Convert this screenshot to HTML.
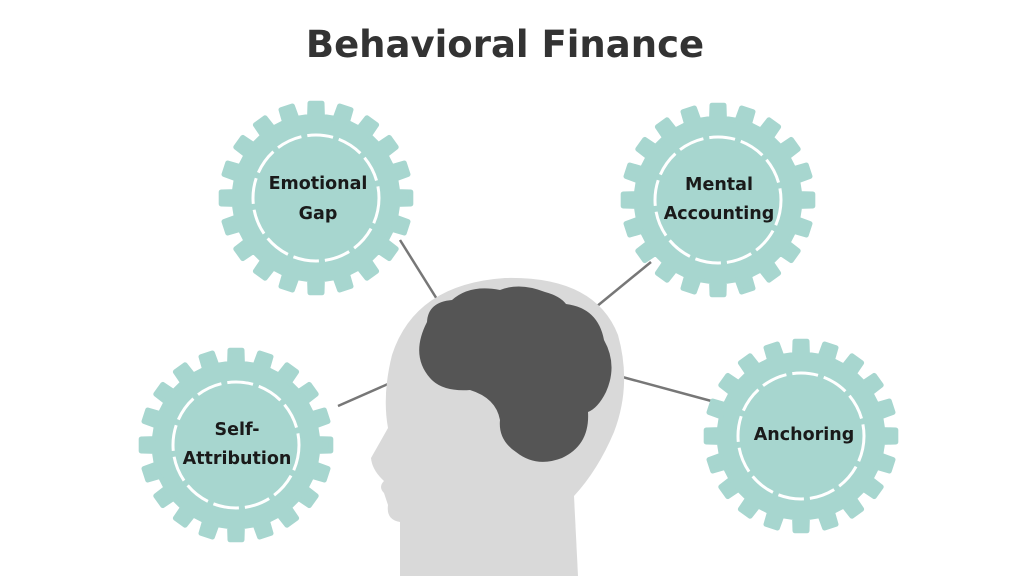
<!DOCTYPE html>
<html><head><meta charset="utf-8"><style>
html,body{margin:0;padding:0;background:#fff;width:1024px;height:576px;overflow:hidden}
svg{display:block}
text{font-family:"DejaVu Sans","Liberation Sans",sans-serif;font-weight:bold}
</style></head><body>
<svg id="s" width="1024" height="576" viewBox="0 0 1024 576" xmlns="http://www.w3.org/2000/svg">
<text x="505" y="57" text-anchor="middle" font-size="37" fill="#333">Behavioral Finance</text>
<g stroke="#777" stroke-width="2.5">
<line x1="400" y1="240" x2="445" y2="312"/>
<line x1="651" y1="262" x2="585" y2="316"/>
<line x1="338" y1="406" x2="422" y2="369"/>
<line x1="604" y1="372" x2="715" y2="402"/>
</g>
<path fill="#d9d9d9" d="M400 576 L400 522 Q386 520 388 505 L384 493 Q378 487 384 481 Q372 470 371 458 L388 428 Q382 395 392 355 Q415 284 505 278 Q595 276 618 335 Q632 385 614 432 Q598 470 574 496 L578 576 Z"/>
<path fill="#555" d="M427 322 Q428 302 452 300 Q470 284 500 290 Q520 282 545 292 Q560 296 566 304 Q598 308 604 340 Q618 365 606 392 Q598 408 588 412 Q590 445 562 458 Q536 468 516 452 Q498 440 500 420 Q496 398 470 390 Q442 392 430 378 Q410 355 427 322 Z"/>
<g id="gears"></g>
<g font-size="17.5" fill="#1a1a1a" text-anchor="middle">
<text x="318" y="189">Emotional</text><text x="318" y="219">Gap</text>
<text x="719" y="190">Mental</text><text x="719" y="219">Accounting</text>
<text x="237" y="435">Self-</text><text x="237" y="464">Attribution</text>
<text x="804" y="440">Anchoring</text>
</g>
</svg>
<script>
var g=document.getElementById('gears');
function gear(cx,cy){
 var n=20,R=95,r=82,d='';
 for(var i=0;i<n;i++){
  var a0=i*2*Math.PI/n, w=Math.PI/n;
  var pts=[[a0-w*0.5,r],[a0-w*0.4,R],[a0+w*0.4,R],[a0+w*0.5,r],[a0+w*1.5,r]];
  pts.forEach(function(p,j){d+=(i==0&&j==0?'M':'L')+(cx+p[1]*Math.cos(p[0])).toFixed(1)+' '+(cy+p[1]*Math.sin(p[0])).toFixed(1)+' ';});
 }
 d+='Z';
 var ns='http://www.w3.org/2000/svg';
 var p=document.createElementNS(ns,'path');p.setAttribute('d',d);p.setAttribute('fill','#a7d6cf');p.setAttribute('stroke','#a7d6cf');p.setAttribute('stroke-width','5');p.setAttribute('stroke-linejoin','round');g.appendChild(p);
 var c=document.createElementNS(ns,'circle');c.setAttribute('cx',cx);c.setAttribute('cy',cy);c.setAttribute('r',63);c.setAttribute('fill','none');c.setAttribute('stroke','#fff');c.setAttribute('stroke-width','3');c.setAttribute('stroke-dasharray','26 6');g.appendChild(c);
}
gear(316,198);gear(718,200);gear(236,445);gear(801,436);
</script>
</body></html>
